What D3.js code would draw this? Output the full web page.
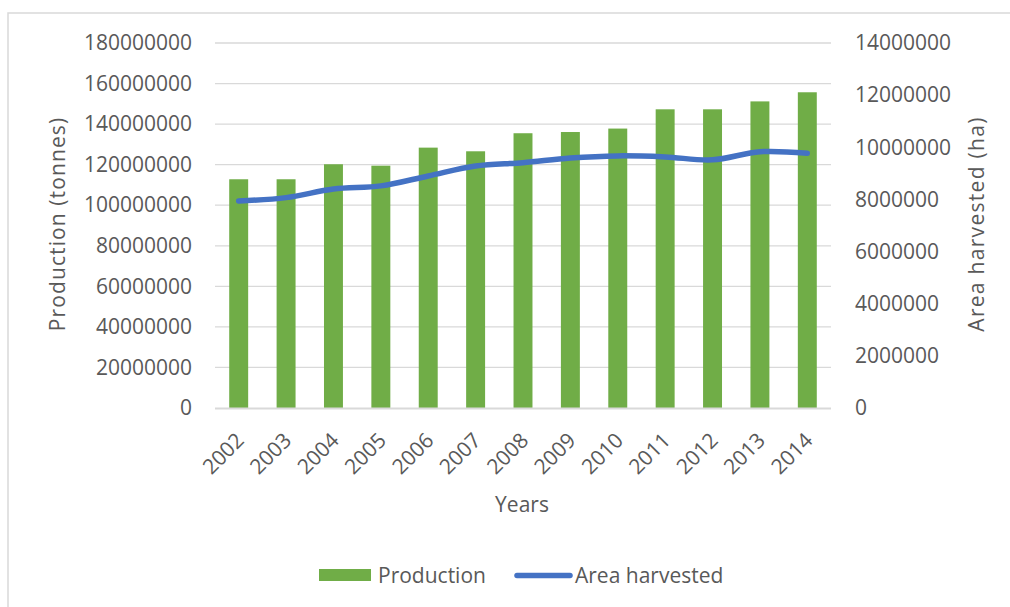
<!DOCTYPE html>
<html>
<head>
<meta charset="utf-8">
<script src="https://cdn.jsdelivr.net/npm/d3@7"></script>
<style>
  html, body { margin: 0; padding: 0; background: #fff; }
  svg { display: block; }
  text { font-family: "Open Sans", "Segoe UI", sans-serif; fill: #595959; }
</style>
</head>
<body>
<svg id="chart" width="1010" height="607"></svg>
<script>
const years = ["2002","2003","2004","2005","2006","2007","2008","2009","2010","2011","2012","2013","2014"];
const production = [112800000, 112800000, 120200000, 119500000, 128400000, 126600000, 135500000, 136100000, 137800000, 147300000, 147300000, 151200000, 155700000];
const areaHarvested = [7940000, 8070000, 8400000, 8520000, 8900000, 9280000, 9410000, 9590000, 9670000, 9630000, 9520000, 9830000, 9770000];
const leftTicks = [0, 20000000, 40000000, 60000000, 80000000, 100000000, 120000000, 140000000, 160000000, 180000000];
const rightTicks = [0, 2000000, 4000000, 6000000, 8000000, 10000000, 12000000, 14000000];
const seriesNames = ["Production", "Area harvested"];

const svg = d3.select("#chart");
const fs = 21;
const plot = { left: 215, right: 831, top: 43, bottom: 408 };

// border
svg.append("rect").attr("x", 8).attr("y", 13).attr("width", 1030).attr("height", 640)
  .attr("fill", "none").attr("stroke", "#d9d9d9").attr("stroke-width", 1.5);

const x = d3.scaleBand().domain(years).range([plot.left, plot.right]).paddingInner(0.6).paddingOuter(0.3);
const yL = d3.scaleLinear().domain([0, 180000000]).range([plot.bottom, plot.top]);
const yR = d3.scaleLinear().domain([0, 14000000]).range([plot.bottom, plot.top]);

// gridlines
svg.append("g").selectAll("line").data(leftTicks.filter(d => d > 0)).join("line")
  .attr("x1", plot.left).attr("x2", plot.right)
  .attr("y1", d => yL(d)).attr("y2", d => yL(d))
  .attr("stroke", "#d9d9d9").attr("stroke-width", 1.3);

// left axis
const gL = svg.append("g").attr("transform", `translate(${plot.left},0)`)
  .call(d3.axisLeft(yL).tickValues(leftTicks).tickFormat(d3.format("d")).tickSize(0).tickPadding(23));
gL.select(".domain").remove();
gL.selectAll("text").style("font-size", fs + "px").attr("fill", "#595959").style("font-family", "'Open Sans', sans-serif");

// right axis
const gR = svg.append("g").attr("transform", `translate(${plot.right},0)`)
  .call(d3.axisRight(yR).tickValues(rightTicks).tickFormat(d3.format("d")).tickSize(0).tickPadding(24));
gR.select(".domain").remove();
gR.selectAll("text").style("font-size", fs + "px").attr("fill", "#595959").style("font-family", "'Open Sans', sans-serif");

// bars
svg.append("g").selectAll("rect").data(years).join("rect")
  .attr("x", d => x(d)).attr("width", x.bandwidth())
  .attr("y", (d, i) => yL(production[i]))
  .attr("height", (d, i) => yL(0) - yL(production[i]))
  .attr("fill", "#70ad47");

// zero axis line
svg.append("line").attr("x1", plot.left).attr("x2", plot.right)
  .attr("y1", yL(0) + 0.5).attr("y2", yL(0) + 0.5)
  .attr("stroke", "#d9d9d9").attr("stroke-width", 2);

// x axis labels
const gX = svg.append("g").attr("transform", `translate(0,${plot.bottom})`)
  .call(d3.axisBottom(x).tickSize(0).tickPadding(0));
gX.select(".domain").remove();
gX.selectAll("text")
  .style("font-size", fs + "px").attr("fill", "#595959").style("font-family", "'Open Sans', sans-serif")
  .attr("text-anchor", "end")
  .attr("dy", null).attr("y", null)
  .attr("dominant-baseline", "central")
  .attr("transform", "translate(1,28) rotate(-45)");

// line
const line = d3.line()
  .x((d, i) => x(years[i]) + x.bandwidth() / 2)
  .y(d => yR(d))
  .curve(d3.curveCatmullRom.alpha(0.5));
svg.append("path").datum(areaHarvested).attr("d", line)
  .attr("fill", "none").attr("stroke", "#4472c4").attr("stroke-width", 5.5)
  .attr("stroke-linecap", "round").attr("stroke-linejoin", "round");

// axis titles
svg.append("text").attr("transform", "translate(65,224) rotate(-90)")
  .attr("text-anchor", "middle").style("font-size", fs + "px").style("letter-spacing", "1.1px")
  .text("Production (tonnes)");
svg.append("text").attr("transform", "translate(984,224) rotate(-90)")
  .attr("text-anchor", "middle").style("font-size", fs + "px").style("letter-spacing", "1.3px")
  .text("Area harvested (ha)");
svg.append("text").attr("x", 522).attr("y", 512)
  .attr("text-anchor", "middle").style("font-size", fs + "px").text("Years");

// legend
const lg = svg.append("g");
lg.append("rect").attr("x", 319).attr("y", 569).attr("width", 52).attr("height", 12).attr("fill", "#70ad47");
lg.append("text").attr("x", 378).attr("y", 575).attr("dominant-baseline", "central")
  .style("font-size", fs + "px").text(seriesNames[0]);
lg.append("line").attr("x1", 517).attr("x2", 570).attr("y1", 575.5).attr("y2", 575.5)
  .attr("stroke", "#4472c4").attr("stroke-width", 5.5).attr("stroke-linecap", "round");
lg.append("text").attr("x", 575).attr("y", 575).attr("dominant-baseline", "central")
  .style("font-size", fs + "px").text(seriesNames[1]);
</script>
</body>
</html>
